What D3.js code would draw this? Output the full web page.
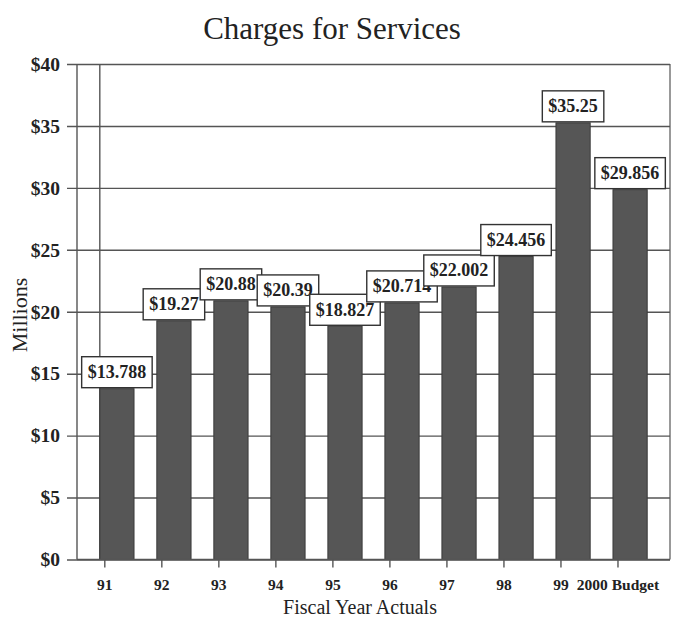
<!DOCTYPE html>
<html>
<head>
<meta charset="utf-8">
<script src="https://cdn.jsdelivr.net/npm/d3@7"></script>
<style>
  html, body { margin: 0; padding: 0; background: #fff; }
  svg { display: block; }
  text { font-family: "Liberation Serif", "Times New Roman", serif; fill: #222; }
</style>
</head>
<body>
<svg id="chart" width="673" height="625"></svg>
<script>
// Charges for Services, in millions of dollars
const categories = ["91", "92", "93", "94", "95", "96", "97", "98", "99", "2000 Budget"];
const values = [13.788, 19.27, 20.88, 20.39, 18.827, 20.714, 22.002, 24.456, 35.25, 29.856];
const valueLabels = ["$13.788", "$19.27", "$20.88", "$20.39", "$18.827", "$20.714", "$22.002", "$24.456", "$35.25", "$29.856"];
const yTicks = [0, 5, 10, 15, 20, 25, 30, 35, 40];

const svg = d3.select("#chart");
const plotLeft = 77, plotRight = 670, plotTop = 64, plotBottom = 559.5;
const lineColor = "#555";

const x = d3.scaleBand().domain(categories).range([plotLeft, plotRight])
  .paddingInner(0.4).paddingOuter(0.4);
const y = d3.scaleLinear().domain([0, 40]).range([plotBottom, plotTop]);

// Title
svg.append("text").attr("x", 332).attr("y", 39)
  .attr("text-anchor", "middle").style("font-size", "31px")
  .text("Charges for Services");

// Horizontal gridlines with left ticks
const yAxis = d3.axisLeft(y).tickValues(yTicks)
  .tickSize(-(plotRight - plotLeft)).tickSizeOuter(0)
  .tickFormat(d => "$" + d).tickPadding(16);
const gy = svg.append("g").attr("transform", `translate(${plotLeft},0)`).call(yAxis);
gy.select(".domain").remove();
gy.selectAll(".tick line").attr("x1", -10).attr("stroke", lineColor).attr("stroke-width", 1.4);
gy.selectAll(".tick text").style("font-size", "19.5px").style("font-weight", "bold")
  .attr("fill", "#222").attr("font-family", null).attr("x", -17);

// Frame: left axis, inner vertical line, right edge
svg.append("line").attr("x1", plotLeft).attr("x2", plotLeft).attr("y1", plotTop).attr("y2", plotBottom)
  .attr("stroke", lineColor).attr("stroke-width", 1.4);
svg.append("line").attr("x1", x(categories[0])).attr("x2", x(categories[0]))
  .attr("y1", plotTop).attr("y2", plotBottom).attr("stroke", lineColor).attr("stroke-width", 1.4);
svg.append("line").attr("x1", plotRight).attr("x2", plotRight).attr("y1", plotTop).attr("y2", plotBottom)
  .attr("stroke", lineColor).attr("stroke-width", 1.2);

// Bars
svg.append("g").selectAll("rect").data(values).join("rect")
  .attr("x", (d, i) => x(categories[i]))
  .attr("y", d => y(d))
  .attr("width", x.bandwidth())
  .attr("height", d => y(0) - y(d))
  .attr("fill", "#565656")
  .attr("stroke", "#3a3a3a").attr("stroke-width", 1);

// Category axis: ticks and labels
const gx = svg.append("g");
gx.append("line").attr("x1", plotLeft).attr("x2", plotRight).attr("y1", plotBottom).attr("y2", plotBottom)
  .attr("stroke", lineColor).attr("stroke-width", 1.4);
const xt = gx.selectAll("g.xt").data(categories).join("g").attr("class", "xt")
  .attr("transform", d => `translate(${x(d) + 5},${plotBottom})`);
xt.append("line").attr("y1", 0).attr("y2", 8).attr("stroke", lineColor).attr("stroke-width", 1.4);
xt.append("text").attr("y", 30).attr("text-anchor", "middle")
  .style("font-size", "15.5px").style("font-weight", "bold").text(d => d);

// Axis titles
svg.append("text").attr("x", 360).attr("y", 614).attr("text-anchor", "middle")
  .style("font-size", "20px").text("Fiscal Year Actuals");
svg.append("text").attr("transform", "translate(27,315) rotate(-90)")
  .attr("text-anchor", "middle").style("font-size", "22px").text("Millions");

// Value label boxes, sitting on top of each bar
const lg = svg.append("g");
values.forEach((v, i) => {
  const cx = x(categories[i]) + x.bandwidth() / 2;
  const g = lg.append("g");
  const rect = g.append("rect");
  const t = g.append("text").attr("x", cx).attr("text-anchor", "middle")
    .style("font-size", "18px").style("font-weight", "bold").text(valueLabels[i]);
  const w = t.node().getComputedTextLength() + 12;
  const h = 31;
  const yb = y(v) - 1;
  rect.attr("x", cx - w / 2).attr("y", yb - h).attr("width", w).attr("height", h)
    .attr("fill", "#fff").attr("stroke", "#333").attr("stroke-width", 1.4);
  t.attr("y", yb - h / 2 + 6);
});
</script>
</body>
</html>
